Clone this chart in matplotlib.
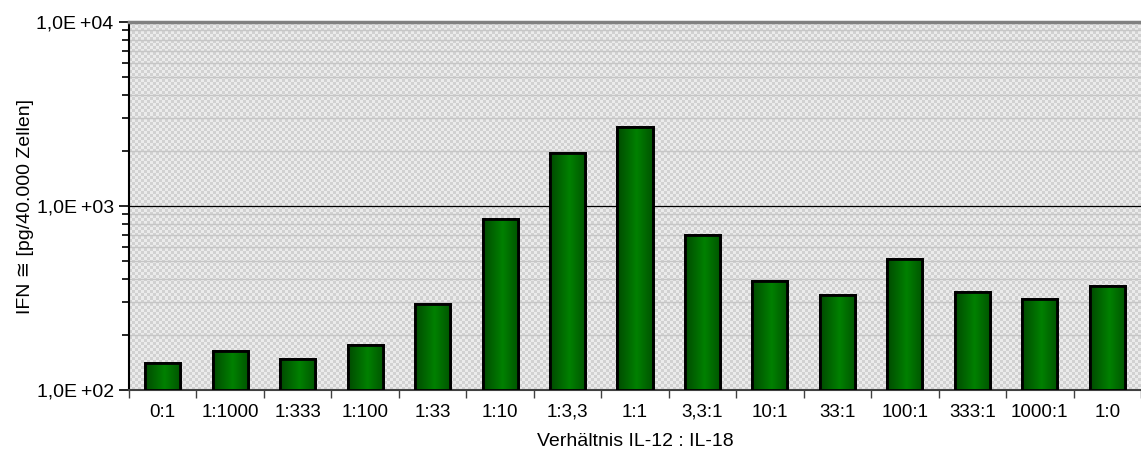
import numpy as np
import matplotlib.pyplot as plt
from matplotlib.ticker import FixedLocator, LogLocator, NullFormatter
from matplotlib.colors import LinearSegmentedColormap

plt.rcParams['font.family'] = ['Liberation Sans', 'DejaVu Sans']

ratios = ['0:1', '1:1000', '1:333', '1:100', '1:33', '1:10', '1:3,3', '1:1',
          '3,3:1', '10:1', '33:1', '100:1', '333:1', '1000:1', '1:0']
ifn = [140, 163, 147, 176, 293, 850, 1940, 2690, 696, 391, 328, 515, 341, 312, 367]

fig = plt.figure(figsize=(11.41, 4.63), dpi=100)
rect = [129 / 1141, 1 - 390 / 463, 1 - 129 / 1141, (390 - 22) / 463]

# checkered grey background behind the plot area
bg = fig.add_axes(rect, zorder=0)
ny, nx = 368 // 3, 1012 // 3
checker = np.where(np.indices((ny, nx)).sum(axis=0) % 2, 0.92, 0.82)
bg.imshow(checker, cmap='gray', vmin=0, vmax=1, interpolation='nearest',
          aspect='auto')
bg.axis('off')

ax = fig.add_axes(rect, zorder=1)
ax.patch.set_alpha(0)
ax.set_yscale('log')

x = np.arange(len(ratios))
bars = ax.bar(x, ifn, width=0.52, bottom=0, color='#007000',
              edgecolor='black', linewidth=2, zorder=3)

# horizontal gradient inside each bar
grad = np.abs(np.linspace(0, 1, 64) - 0.55)
grad = (1 - grad / grad.max())[None, :]
gcm = LinearSegmentedColormap.from_list('g', ['#004c00', '#008000'])
for b, v in zip(bars, ifn):
    x0 = b.get_x()
    im = ax.imshow(grad, cmap=gcm, extent=[x0, x0 + b.get_width(), 100, v],
                   aspect='auto', zorder=3.5, interpolation='bilinear')
    im.set_clip_path(b)
    ax.add_patch(plt.Rectangle((x0, 100), b.get_width(), v - 100,
                               fill=False, edgecolor='black', linewidth=2,
                               zorder=4))
ax.set_xlim(-0.5, len(ratios) - 0.5)
ax.set_ylim(100, 10000)
ax.set_aspect('auto')

# gridlines
ax.yaxis.set_major_locator(FixedLocator([100, 1000, 10000]))
ax.yaxis.set_minor_locator(LogLocator(base=10, subs=np.arange(2, 10)))
ax.yaxis.set_minor_formatter(NullFormatter())
ax.set_yticklabels(['1,0E\u2009+02', '1,0E\u2009+03', '1,0E\u2009+04'], fontsize=14)
ax.grid(True, which='major', axis='y', color='black', linewidth=0.9, zorder=1)
ax.grid(True, which='minor', axis='y', color='#c6c6c6', linewidth=1, zorder=1)
ax.set_axisbelow(True)

ax.set_xticks(x)
ax.set_xticklabels(ratios, fontsize=13.5)
ax.set_xticks(np.arange(len(ratios) + 1) - 0.5, minor=True)
ax.tick_params(axis='x', which='major', length=0, pad=10)
ax.tick_params(axis='x', which='minor', length=6, width=1, color='#404040')
ax.tick_params(axis='y', which='major', length=7, width=1.2, pad=4)
ax.tick_params(axis='y', which='minor', length=5, width=1.2)

ax.spines['right'].set_visible(False)
ax.spines['top'].set_color('#808080')
ax.spines['top'].set_linewidth(2.5)
ax.spines['left'].set_linewidth(1.5)
ax.spines['bottom'].set_color('#404040')
ax.spines['bottom'].set_linewidth(1.5)

ax.set_xlabel('Verhältnis IL-12 : IL-18', fontsize=14, labelpad=9)
ax.set_ylabel('IFN \u2245 [pg/40.000 Zellen]', fontsize=14, labelpad=2)

fig.savefig('out.png', dpi=100)
